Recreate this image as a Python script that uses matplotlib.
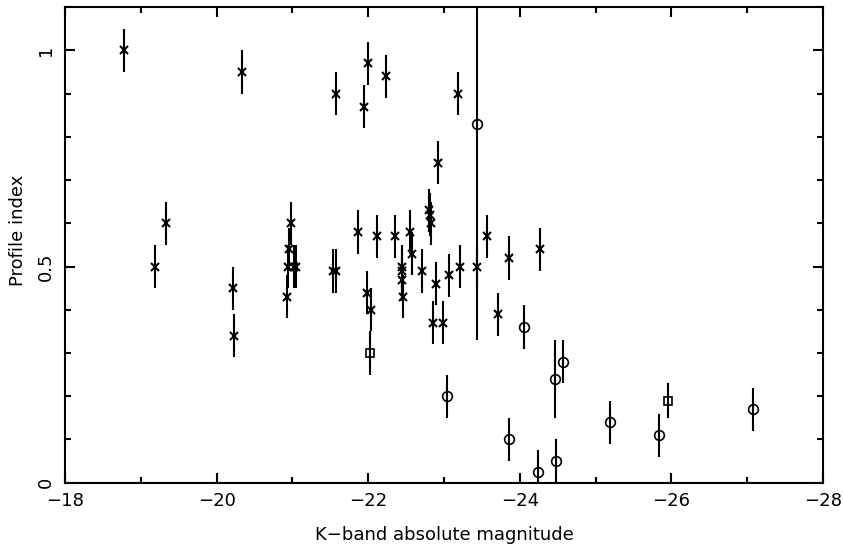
import matplotlib
matplotlib.use("Agg")
import matplotlib.pyplot as plt
from matplotlib.ticker import MultipleLocator, FixedLocator, FixedFormatter

# crosses
cross_mag = [-18.78, -19.19, -19.33, -20.21, -20.23, -20.34, -20.93, -20.94, -20.95,
             -20.98, -21.02, -21.05, -21.53, -21.58, -21.58, -21.87, -21.95, -21.99,
             -22.00, -22.04, -22.11, -22.24, -22.36, -22.45, -22.45, -22.45, -22.46,
             -22.55, -22.58, -22.71, -22.80, -22.81, -22.83, -22.86, -22.90, -22.92,
             -22.99, -23.06, -23.19, -23.21, -23.43, -23.57, -23.71, -23.86, -24.27]
cross_idx = [1.00, 0.50, 0.60, 0.45, 0.34, 0.95, 0.43, 0.50, 0.54,
             0.60, 0.50, 0.50, 0.49, 0.49, 0.90, 0.58, 0.87, 0.44,
             0.97, 0.40, 0.57, 0.94, 0.57, 0.50, 0.49, 0.47, 0.43,
             0.58, 0.53, 0.49, 0.63, 0.62, 0.60, 0.37, 0.46, 0.74,
             0.37, 0.48, 0.90, 0.50, 0.50, 0.57, 0.39, 0.52, 0.54]
cross_err = [0.05] * len(cross_mag)

# circles
circ_mag = [-23.04, -23.44, -23.86, -24.05, -24.24, -24.46, -24.48, -24.57, -25.19, -25.84, -27.08]
circ_idx = [0.20, 0.83, 0.10, 0.36, 0.025, 0.24, 0.05, 0.28, 0.14, 0.11, 0.17]
circ_err = [0.05, 0.50, 0.05, 0.05, 0.05, 0.09, 0.05, 0.05, 0.05, 0.05, 0.05]

# squares
sq_mag = [-22.03, -25.96]
sq_idx = [0.30, 0.19]
sq_err = [0.05, 0.04]

plt.rcParams['font.family'] = ['DejaVu Sans']
fig = plt.figure(figsize=(8.43, 5.47), dpi=100)
ax = fig.add_axes([0.0771, 0.1176, 0.8992, 0.8691])

common = dict(color='black', ecolor='black', elinewidth=1.5, capsize=0, linestyle='none')
ax.errorbar(cross_mag, cross_idx, yerr=cross_err, fmt='x', ms=5.5, mew=1.5, **common)
ax.errorbar(circ_mag, circ_idx, yerr=circ_err, fmt='o', ms=7, mew=1.2, mfc='none', **common)
ax.errorbar(sq_mag, sq_idx, yerr=sq_err, fmt='s', ms=6, mew=1.2, mfc='none', **common)

ax.set_xlim(-18, -28)
ax.set_ylim(0, 1.1)

ax.xaxis.set_major_locator(MultipleLocator(2))
ax.xaxis.set_minor_locator(MultipleLocator(1))
ax.yaxis.set_major_locator(FixedLocator([0, 0.5, 1.0]))
ax.yaxis.set_major_formatter(FixedFormatter(['0', '0.5', '1']))
ax.yaxis.set_minor_locator(MultipleLocator(0.1))

ax.tick_params(which='both', direction='in', top=True, right=True, width=1.5, labelsize=13)
ax.tick_params(which='major', length=7)
ax.tick_params(which='minor', length=4.5)
ax.tick_params(axis='x', pad=7)
ax.tick_params(axis='y', pad=7)
for lab in ax.get_yticklabels():
    lab.set_rotation(90)
    lab.set_va('center')
for sp in ax.spines.values():
    sp.set_linewidth(1.5)

ax.set_xlabel('K\u2212band absolute magnitude', fontsize=13, va='center')
ax.xaxis.set_label_coords(0.5, -0.11)
ax.set_ylabel('Profile index', fontsize=13, va='center')
ax.yaxis.set_label_coords(-0.062, 0.53)

fig.savefig('out.png', dpi=100)
